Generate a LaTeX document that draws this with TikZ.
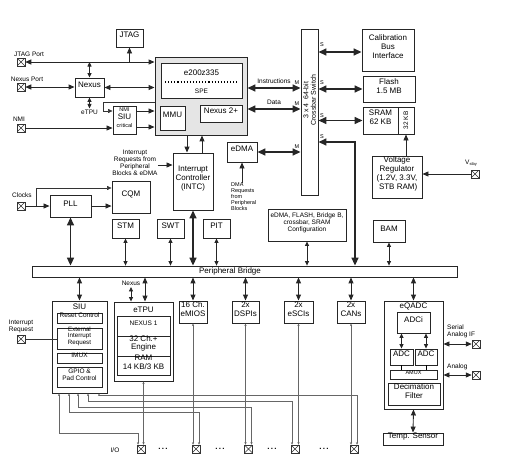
\documentclass[tikz,border=0pt]{standalone}
\usepackage{fontspec}
\setmainfont{Liberation Sans}
\usetikzlibrary{arrows.meta,fit}
\newcommand\fm{\fontsize{8}{9}\selectfont}
\newcommand\fs{\fontsize{6.5}{7}\selectfont}
\newcommand\ft{\fontsize{5.5}{6}\selectfont}
\newcommand\bx[5][box]{\node[#1, fit={(#2) (#3)}] (#4) {#5};}
\begin{document}
\begin{tikzpicture}[x=1pt,y=-1pt,
 box/.style={draw=black!85, line width=0.9pt, fill=white, inner sep=0pt, align=center, font=\fm},
 ibox/.style={box, font=\fs, line width=0.8pt},
 lbl/.style={inner sep=0pt, align=center, font=\fs},
 tl/.style={inner sep=0pt, font=\ft},
 bigarr/.style={line width=1.5pt, draw=black!85, {Triangle[length=8pt,width=7pt]}-{Triangle[length=8pt,width=7pt]}},
 medarr/.style={line width=0.9pt, draw=black!85, {Triangle[length=6pt,width=5pt]}-{Triangle[length=6pt,width=5pt]}},
 medarrE/.style={line width=0.8pt, draw=black!85, -{Triangle[length=6pt,width=5pt]}},
 smarr/.style={line width=0.8pt, draw=black!85, {Triangle[length=4.5pt,width=4pt]}-{Triangle[length=4.5pt,width=4pt]}},
 thinE/.style={line width=0.6pt, draw=black!80, -{Triangle[length=4.5pt,width=4pt]}},
 wire/.style={line width=0.45pt, draw=black!60, {Stealth[length=2.6pt,width=2.2pt]}-{Stealth[length=2.6pt,width=2.2pt]}},
 term/.style={draw=black!80, line width=0.5pt, fill=white, minimum size=8pt, inner sep=0pt,
   path picture={\draw[line width=0.5pt, black!80] (path picture bounding box.north west) -- (path picture bounding box.south east)
     (path picture bounding box.north east) -- (path picture bounding box.south west);}}
]
\useasboundingbox (0,0) rectangle (517,472);

% ---------- top left
\bx{116,29}{143,47}{jtag}{JTAG}
\node[term] (tjp) at (21,62) {};
\node[lbl] (ljp) at (29,54) {JTAG Port};
\node[term] (tnp) at (21,87) {};
\node[lbl] (lnp) at (27,79) {Nexus Port};
\bx{75,78}{104,97}{nexus}{Nexus}
\node[term] (tnmi) at (21,128) {};
\node[lbl] (lnmi) at (19,119) {NMI};
\bx{113,106}{136,134}{siuc}{{\ft NMI}\\[-1pt]SIU\\[-1pt]{\ft critical}}

% ---------- core
\bx[box, fill=black!10]{155,57}{247,135}{core}{}
\bx{161,63}{242,98}{e200}{}
\node[font=\fm, inner sep=0pt] (e2t) at (201.5,73) {e200z335};
\node[lbl] (spe) at (201.5,91) {SPE};
\draw[dotted, line width=1.1pt] (165,82) -- (238,82);
\bx{160,106}{185,130}{mmu}{MMU}
\bx{200,105}{242,122}{nex2}{Nexus 2+}

% ---------- crossbar and slaves
\bx{301,29}{318,195}{xbar}{}
\node[rotate=90, font=\fontsize{7}{7.5}\selectfont, align=center, inner sep=0pt] (xbt) at (309.5,100) {3 x 4 \ 64-bit\\Crossbar Switch};
\bx{362,29}{414,71}{cal}{Calibration\\Bus\\Interface}
\bx{363,76}{415,102}{flash}{Flash\\1.5 MB}
\bx{363,107}{398,134}{sram}{SRAM\\62 KB}
\bx{398,107}{414,134}{kb32}{}
\node[rotate=90, font=\fs, inner sep=0pt] (kbt) at (kb32.center) {32 KB};
\bx[box, align=left]{372,156}{422,198}{vreg}{Voltage\\Regulator\\(1.2V, 3.3V,\\\ STB RAM)}
\node[term] (tv) at (475,174) {};
\node[lbl] (lv) at (471,163) {V\raisebox{-0.4ex}{\fontsize{4}{4}\selectfont stby}};

\node[tl] (m1) at (297,83) {M};
\node[tl] (m2) at (297,104) {M};
\node[tl] (m3) at (297,147) {M};
\node[tl] (s1) at (322,45) {S};
\node[tl] (s2) at (322,83) {S};
\node[tl] (s3) at (322,116) {S};
\node[tl] (s4) at (322,137) {S};

% ---------- middle
\bx{227,142}{257,162}{edma}{eDMA}
\node[tl, align=left, anchor=north west] (dmal) at (231,183) {DMA\\Requests\\from\\Peripheral\\Blocks};
\bx{173,153}{213,210}{intc}{Interrupt\\Controller\\(INTC)}
\node[lbl] (irl) at (135,163) {Interrupt\\Requests from\\Peripheral\\Blocks \& eDMA};
\bx{112,181}{150,213}{cqm}{CQM}
\bx{50,195}{91,217}{pll}{PLL}
\node[term] (tclk) at (21,206) {};
\node[lbl] (lclk) at (22,195) {Clocks};
\coordinate (cj) at (36,206);
\bx{112,219}{139,238}{stm}{STM}
\bx{157,219}{184,238}{swt}{SWT}
\bx{203,219}{230,238}{pit}{PIT}
\bx[ibox]{268,209}{346,241}{cfg}{eDMA, FLASH, Bridge B,\\crossbar, SRAM\\Configuration}
\bx{373,220}{405,242}{bam}{BAM}
\bx[box, line width=0.8pt]{32,266}{457,277}{bridge}{}
\node[font=\fm, inner sep=0pt] (brt) at (230,271.5) {Peripheral Bridge};

% ---------- bottom
\bx{52,301}{107,393}{siu}{}
\node[font=\fm, inner sep=0pt] (siut) at (79.5,306.5) {SIU};
\bx[ibox]{57,313}{102,323}{rst}{Reset Control}
\bx[ibox, font=\fontsize{6.2}{6.6}\selectfont]{57,328}{102,349}{ext}{External\\Interrupt\\Request}
\bx[ibox]{57,353}{102,363}{imux}{IMUX}
\bx[ibox]{57,367}{102,387}{gpio}{GPIO \&\\Pad Control}
\node[term] (tirq) at (21,339) {};
\node[lbl] (lirq) at (21,326) {Interrupt\\Request};

\bx{114,302}{173,381}{etpu}{}
\node[font=\fm, inner sep=0pt] (etput) at (143.5,309.5) {eTPU};
\bx[ibox]{117,316}{170,336}{nex1}{NEXUS 1}
\bx{117,336}{170,356}{eng}{32 Ch.+\\[-1pt]Engine}
\bx{117,356}{170,375}{ram}{RAM\\14 KB/3 KB}
\node[lbl] (lnex) at (131,283) {Nexus};

\bx{179,301}{207,323}{emios}{16 Ch.\\eMIOS}
\bx{232,301}{259,323}{dspi}{2x\\DSPIs}
\bx{284,301}{313,323}{esci}{2x\\eSCIs}
\bx{337,301}{365,323}{can}{2x\\CANs}

\bx{384,301}{443,409}{eqadc}{}
\node[font=\fm, inner sep=0pt] (eqt) at (413.5,306.5) {eQADC};
\bx{397,312}{430,333}{adci}{ADCi}
\bx{390,349}{413,365}{adc1}{ADC}
\bx{415,349}{437,365}{adc2}{ADC}
\bx[ibox, font=\ft]{390,370}{437,379}{amux}{AMUX}
\bx{388,383}{440,405}{dec}{Decimation\\Filter}
\bx{383,433}{443,445}{temp}{Temp. Sensor}
\node[term] (ts) at (476,344) {};
\node[lbl, align=left, anchor=west] (lsa) at (447,331) {Serial\\Analog IF};
\node[term] (ta) at (476,375) {};
\node[lbl, anchor=west] (lan) at (447,367) {Analog};

\node[term] (t1) at (141,449) {};
\node[term] (t2) at (196,449) {};
\node[term] (t3) at (248.5,449) {};
\node[term] (t4) at (295,449) {};
\node[term] (t5) at (354,449) {};
\node[font=\fm, inner sep=0pt] (d1) at (163,449) {\textbf{.\,.\,.}};
\node[font=\fm, inner sep=0pt] (d2) at (220,449) {\textbf{.\,.\,.}};
\node[font=\fm, inner sep=0pt] (d3) at (272,449) {\textbf{.\,.\,.}};
\node[font=\fm, inner sep=0pt] (d4) at (324,449) {\textbf{.\,.\,.}};
\node[lbl] (lio) at (115,450) {I/O};

% ---------- connectors top left
\draw[medarr] (tjp) -- (tjp -| core.west);
\draw[medarrE] (jtag.south |- tjp) -- (jtag.south);
\draw[smarr] (nexus.north |- tjp) -- (nexus.north);
\draw[medarr] (tnp) -- (tnp -| nexus.west);
\draw[medarr] (nexus.east) -- (nexus.east -| core.west);
\draw[smarr] (nexus.south) -- ++(0,11) node[lbl, below=1pt] (etpul) {eTPU};
\draw[thinE] (core.west |- 0,102) -- (103,102) -- (103,111) -- (siuc.west |- 0,111);
\draw[medarrE] (tnmi) -- (tnmi -| siuc.west);
\draw[medarrE] (siuc.east |- 0,111) -- (core.west |- 0,111);
\draw[medarrE] (siuc.east |- 0,127) -- (core.west |- 0,127);

% core - crossbar
\draw[bigarr] (core.east |- 0,88) -- (xbar.west |- 0,88) node[lbl, midway, above=3.5pt] (linst) {Instructions};
\draw[bigarr] (core.east |- 0,109) -- (xbar.west |- 0,109) node[lbl, midway, above=3.5pt] (ldata) {Data};
\draw[bigarr] (edma.east) -- (edma.east -| xbar.west);
\draw[medarrE] (dmal.north -| edma.south) -- (edma.south);

% core - intc
\draw[medarrE, line width=1pt] (core.south -| 187,0) -- (intc.north -| 187,0);
\draw[medarrE, line width=1pt] (intc.north -| 202,0) -- (core.south -| 202,0);
\draw[medarrE] (irl.east |- 0,165) -- (intc.west |- 0,165);

% clocks
\draw[medarrE] (tclk) -- (tclk -| pll.west);
\draw[thinE] (cj) -- (cj |- 0,188) -- (cqm.west |- 0,188);
\draw[medarrE] (pll.east) -- (pll.east -| cqm.west);

% to bridge
\draw[bigarr] (pll.south) -- (pll.south |- bridge.north);
\draw[smarr] (stm.south) -- (stm.south |- bridge.north);
\draw[smarr] (swt.south) -- (swt.south |- bridge.north);
\draw[smarr] (pit.south) -- (pit.south |- bridge.north);
\draw[bigarr] (intc.south) -- (intc.south |- bridge.north);
\draw[smarr] (cfg.south) -- (cfg.south |- bridge.north);
\draw[smarr] (bam.south) -- (bam.south |- bridge.north);
\draw[bigarr] (xbar.east |- 0,142) -- (355,142) -- (bridge.north -| 355,0);

% slaves
\draw[bigarr] (xbar.east |- 0,52) -- (cal.west |- 0,52);
\draw[bigarr] (xbar.east |- flash.west) -- (flash.west);
\draw[bigarr] (xbar.east |- sram.west) -- (sram.west);
\draw[medarrE] (kb32.south |- vreg.north) -- (kb32.south);
\draw[medarrE] (tv) -- (tv -| vreg.east);

% bridge to bottom
\draw[medarr] (bridge.south -| siu.north) -- (siu.north);
\draw[medarr] (bridge.south -| 145,0) -- (etpu.north -| 145,0);
\draw[medarr] (bridge.south -| emios.north) -- (emios.north);
\draw[medarr] (bridge.south -| dspi.north) -- (dspi.north);
\draw[medarr] (bridge.south -| esci.north) -- (esci.north);
\draw[medarr] (bridge.south -| can.north) -- (can.north);
\draw[medarr] (bridge.south -| eqadc.north) -- (eqadc.north);
\draw[smarr] ([yshift=-1.5pt]lnex.south) -- (lnex.south |- etpu.north);
\draw[line width=0.6pt, black!80] (tirq) -- (tirq -| ext.west);

% eqadc
\draw[smarr] (adc1.north |- adci.south) -- (adc1.north);
\draw[smarr] (adc2.north |- adci.south) -- (adc2.north);
\draw[line width=0.6pt] (adc1.south) -- (adc1.south |- amux.north);
\draw[line width=0.6pt] (adc2.south) -- (adc2.south |- amux.north);
\draw[medarr] (eqadc.south) -- (temp.north);
\draw[medarr] (eqadc.east |- ts) -- (ts);
\draw[medarr] (eqadc.east |- ta) -- (ta);

% I/O wires
\draw[wire] (etpu.south) -- (etpu.south |- t1.north);
\draw[wire] (emios.south) -- (emios.south |- t2.north);
\draw[wire] (dspi.south) -- (dspi.south |- t3.north);
\draw[wire] (esci.south) -- (esci.south |- t4.north);
\draw[wire] (can.south) -- (can.south |- t5.north);
\draw[wire] (siu.south -| 59,0) -- (59,433) -- (138,433) -- (t1.north -| 138,0);
\draw[wire] (siu.south -| 69,0) -- (69,412) -- (199,412) -- (t2.north -| 199,0);
\draw[wire] (siu.south -| 78,0) -- (78,407) -- (251.5,407) -- (t3.north -| 251.5,0);
\draw[wire] (siu.south -| 88,0) -- (88,401) -- (292,401) -- (t4.north -| 292,0);
\draw[wire] (siu.south -| 99,0) -- (99,395) -- (357,395) -- (t5.north -| 357,0);
\end{tikzpicture}
\end{document}
